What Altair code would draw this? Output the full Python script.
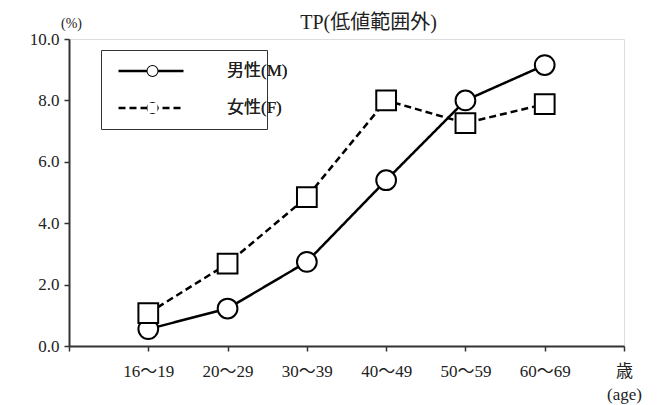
import altair as alt
import pandas as pd

ages = ["16〜19", "20〜29", "30〜39", "40〜49", "50〜59", "60〜69"]
male = [0.55, 1.22, 2.74, 5.4, 8.0, 9.15]
female = [1.07, 2.68, 4.85, 8.0, 7.26, 7.88]
series = ["男性(M)", "女性(F)"]

rows = []
for i, a in enumerate(ages):
    rows.append({"idx": i + 1, "age": a, "value": male[i], "sex": series[0]})
    rows.append({"idx": i + 1, "age": a, "value": female[i], "sex": series[1]})
df = pd.DataFrame(rows)

FONT = "Liberation Serif, DejaVu Serif, Noto Sans CJK JP, serif"

age_js = "[" + ",".join("'" + a + "'" for a in ages) + "]"
label_expr = (
    "datum.value == 0 ? '' : datum.value == 7 ? ['歳', '(age)'] : "
    + age_js + "[datum.value - 1]"
)

x_enc = alt.X(
    "idx:Q",
    scale=alt.Scale(domain=[0, 7], nice=False, zero=False),
    axis=alt.Axis(
        title=None, values=[0, 1, 2, 3, 4, 5, 6, 7], labelExpr=label_expr,
        grid=False, domainColor="#333333", domainWidth=2, tickColor="#333333",
        tickWidth=1.5, tickSize=5, labelFont=FONT, labelFontSize=17,
        labelColor="#222222", labelPadding=12, labelLineHeight=23,
        labelFlush=False, labelOverlap=False,
    ),
)
y_enc = alt.Y(
    "value:Q",
    scale=alt.Scale(domain=[0, 10], nice=False),
    axis=alt.Axis(
        title="(%)", titleAngle=0, titleX=2, titleY=-16, titleAlign="center",
        titleBaseline="middle", titleFont=FONT, titleFontSize=14,
        titleFontWeight="normal", titleColor="#222222",
        values=[0, 2, 4, 6, 8, 10], format=".1f", grid=False,
        domainColor="#333333", domainWidth=2, tickColor="#333333",
        tickWidth=1.5, tickSize=5, labelFont=FONT, labelFontSize=17,
        labelColor="#222222", labelPadding=5,
    ),
)

# line legend (drawn underneath): long stroke symbols, hidden labels, boxed
lines = alt.Chart(df).mark_line(color="black", strokeWidth=2.5).encode(
    x=x_enc,
    y=y_enc,
    detail="sex:N",
    strokeDash=alt.StrokeDash(
        "sex:N",
        scale=alt.Scale(domain=series, range=[[1, 0], [7, 4]]),
        legend=alt.Legend(
            title=None, orient="none", legendX=32, legendY=11,
            direction="vertical", symbolType="stroke", symbolSize=4225,
            symbolStrokeColor="black", symbolStrokeWidth=2.5,
            symbolOffset=5, clipHeight=20, rowPadding=17, padding=11,
            strokeColor="#333333", fillColor="white",
            labelFont=FONT, labelFontSize=17, labelOffset=10,
            labelOpacity=0, zindex=0,
        ),
    ),
)


def marker_legend():
    return alt.Legend(
        title=None, orient="none", legendX=32, legendY=11,
        direction="vertical", symbolSize=100, symbolOpacity=1,
        symbolFillColor="white", symbolStrokeColor="black",
        symbolStrokeWidth=2, symbolOffset=32, clipHeight=20,
        rowPadding=17, padding=11,
        labelFont=FONT, labelFontSize=17, labelColor="#222222",
        labelOffset=66, zindex=1,
    )


# marker legend (drawn on top): circle / square with visible labels
points = alt.Chart(df).mark_point(
    filled=False, fill="white", strokeWidth=2, opacity=1, size=390
).encode(
    x=x_enc,
    y=y_enc,
    color=alt.Color(
        "sex:N",
        scale=alt.Scale(domain=series, range=["black", "black"]),
        legend=marker_legend(),
    ),
    shape=alt.Shape(
        "sex:N",
        scale=alt.Scale(domain=series, range=["circle", "square"]),
        legend=marker_legend(),
    ),
)

chart = (
    alt.layer(lines, points)
    .resolve_legend(strokeDash="independent", shape="independent")
    .properties(
        width=555,
        height=307,
        autosize=alt.AutoSizeParams(type="none"),
        padding={"left": 61, "top": 31, "right": 26, "bottom": 59},
        title=alt.TitleParams(
            "TP(低値範囲外)", font=FONT, fontSize=20, fontWeight="normal",
            color="#222222", anchor="middle", dx=22, dy=24, offset=7,
        ),
    )
    .configure_view(stroke="#888888", strokeWidth=2)
    .configure_legend(strokeWidth=1.2)
    .configure(background="white")
)

chart.save("out.html", embed_options={"renderer": "svg", "actions": False})
